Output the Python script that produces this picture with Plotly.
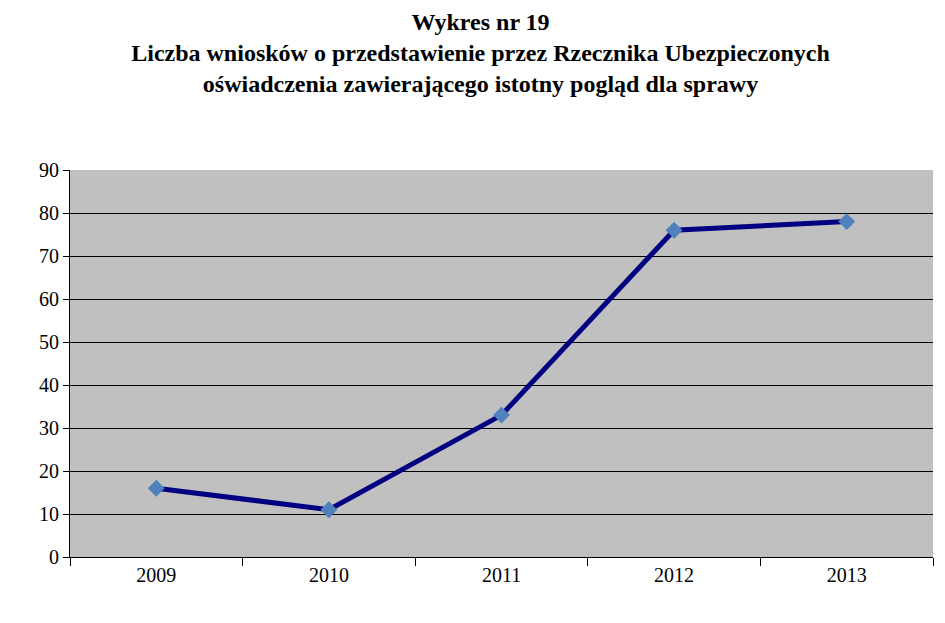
import plotly.graph_objects as go

# Liczba wniosków 2009-2013
years = ['2009', '2010', '2011', '2012', '2013']
counts = [16, 11, 33, 76, 78]

fig = go.Figure()
fig.add_trace(go.Scatter(
    x=years, y=counts, mode='lines+markers',
    line=dict(color='#000080', width=5),
    marker=dict(symbol='diamond', size=13, color='#4F81BD'),
))

fig.update_layout(
    width=945, height=623,
    margin=dict(l=62, r=20, t=162, b=74, autoexpand=False),
    paper_bgcolor='white', plot_bgcolor='#C0C0C0',
    font=dict(family='Liberation Serif', size=20, color='black'),
    showlegend=False,
    title=dict(
        text='<b>Wykres nr 19<br>Liczba wniosków o przedstawienie przez Rzecznika Ubezpieczonych'
             '<br>oświadczenia zawierającego istotny pogląd dla sprawy</b>',
        x=0.5, xanchor='center', y=0.965, yanchor='top',
        font=dict(size=24),
    ),
)
fig.update_xaxes(
    type='category', tickson='boundaries', ticks='outside', ticklen=8,
    tickcolor='black', showline=True, linecolor='black', mirror=False,
    showgrid=False, range=[-0.5, 4.5], automargin=False,
)
fig.update_yaxes(
    range=[0, 90], dtick=10, showgrid=True, gridcolor='black', gridwidth=1,
    ticks='outside', ticklen=6, tickcolor='black', showline=True,
    linecolor='black', zeroline=False, automargin=False,
)

fig.write_html("out.html")
